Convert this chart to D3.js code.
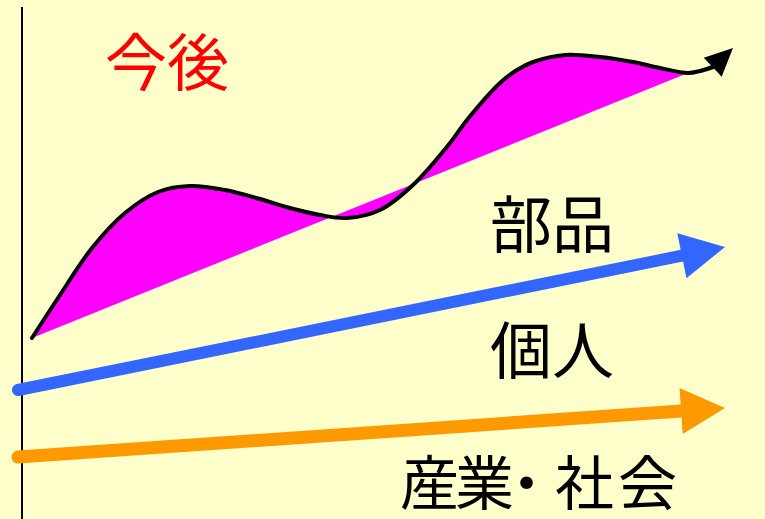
<!DOCTYPE html>
<html lang="ja">
<head>
    <meta charset="UTF-8">
    <title>今後</title>
    <script src="https://cdn.jsdelivr.net/npm/d3@7"></script>
    <style>
        html, body { margin: 0; padding: 0; background: #FFFFCC; }
        svg { display: block; }
    </style>
</head>
<body>
    <svg width="765" height="519"></svg>
<script>
    // 曲線（今後）の点: [時間, 水準]
    var trendCurve = [
        [10, 172], [36, 212], [70, 262], [103, 297], [136, 318], [168, 324],
        [203, 320], [238, 311], [268, 302], [298, 295], [325, 292], [358, 300],
        [391, 325], [428, 367], [445, 390], [478, 427], [495, 440], [511, 448],
        [543, 455], [578, 453], [611, 448], [638, 442], [666, 437], [678, 439],
        [691, 443]
    ];
    var trendTip = [711, 462];
    var fillEndX = 666; // 塗りつぶしはここまで

    // 直線の矢印: 始点と先端
    var blueArrow = [[-4, 120], [703, 263]];
    var orangeArrow = [[-4, 53], [703, 102]];

    var labels = ["今後", "部品", "個人", "産業・社会"];

    var width = 765;
    var height = 519;
    var svg = d3.select("svg");

    var x = d3.scaleLinear().domain([0, 720]).range([22, 742]);
    var y = d3.scaleLinear().domain([0, 500]).range([510, 10]);

    svg.append("rect")
        .attr("width", width)
        .attr("height", height)
        .attr("fill", "#FFFFCC");

    // 縦軸
    svg.append("line")
        .attr("x1", x(0)).attr("x2", x(0))
        .attr("y1", y(503)).attr("y2", height)
        .attr("stroke", "#000")
        .attr("stroke-width", 2);

    var line = d3.line()
        .x(function(d) { return x(d[0]); })
        .y(function(d) { return y(d[1]); })
        .curve(d3.curveCatmullRom.alpha(0.5));

    var fill = svg.append("path")
        .attr("fill", "#FF00FF")
        .attr("stroke", "none");

    var curve = svg.append("path")
        .attr("d", line(trendCurve))
        .attr("fill", "none")
        .attr("stroke", "#000")
        .attr("stroke-width", 4)
        .attr("stroke-linecap", "round");

    // 曲線と直線の間を塗る（曲線をなぞって fillEndX まで）
    var node = curve.node();
    var total = node.getTotalLength();
    var pts = [];
    for (var l = 0; l <= total; l += 1) {
        var p = node.getPointAtLength(l);
        if (p.x > x(fillEndX)) break;
        pts.push([p.x, p.y]);
    }
    fill.attr("d", "M" + pts.join("L") + "Z");

    function head(from, tip, len, w, color) {
        var tx = x(tip[0]), ty = y(tip[1]);
        var dx = tx - x(from[0]), dy = ty - y(from[1]);
        var d = Math.sqrt(dx * dx + dy * dy);
        var ux = dx / d, uy = dy / d;
        var bx = tx - ux * len, by = ty - uy * len;
        var tri = [[tx, ty], [bx - uy * w / 2, by + ux * w / 2], [bx + uy * w / 2, by - ux * w / 2]];
        svg.append("path")
            .attr("d", "M" + tri.join("L") + "Z")
            .attr("fill", color);
        return [bx, by];
    }

    head(trendCurve[trendCurve.length - 1], trendTip, 28, 26, "#000");

    function straightArrow(a, color, lw) {
        var base = head(a[0], a[1], 44, 46, color);
        svg.append("line")
            .attr("x1", x(a[0][0])).attr("y1", y(a[0][1]))
            .attr("x2", base[0]).attr("y2", base[1])
            .attr("stroke", color)
            .attr("stroke-width", lw)
            .attr("stroke-linecap", "round");
    }
    straightArrow(blueArrow, "#3366FF", 12);
    straightArrow(orangeArrow, "#FF9900", 13);

    // ラベルの配置
    var font = "'Noto Sans CJK JP', sans-serif";
    function label(text, lx, ly, size, color) {
        return svg.append("text")
            .attr("x", lx)
            .attr("y", ly)
            .attr("dominant-baseline", "central")
            .attr("font-family", font)
            .attr("font-size", size)
            .attr("fill", color)
            .text(text);
    }
    label(labels[0], 105, 59, 62, "#FF0000");
    label(labels[1], 490, 221, 62, "#000");
    label(labels[2], 490, 347, 62, "#000");
    // 産業・社会: 中黒を詰める
    label(labels[3], "400 455 497 555 618", 479, 59, "#000");
</script>
</body>
</html>
